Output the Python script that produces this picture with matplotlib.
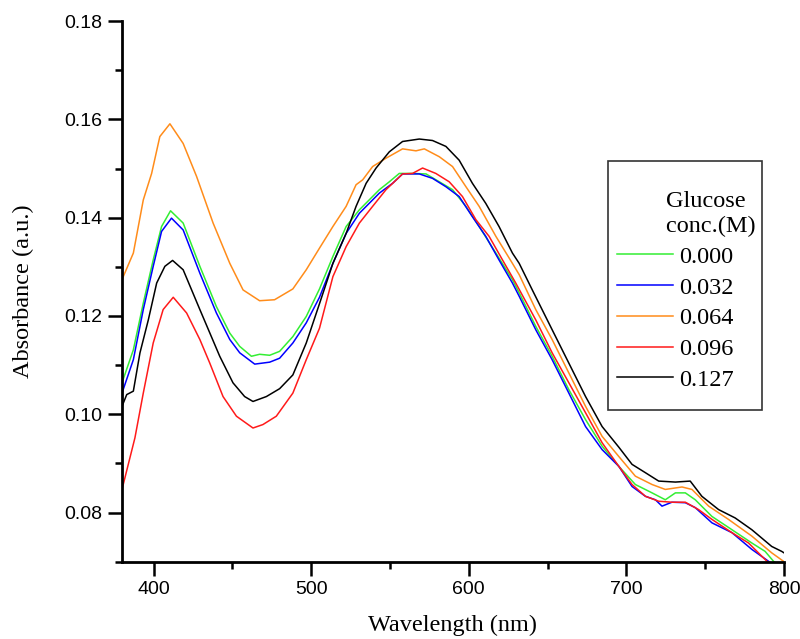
import numpy as np
import matplotlib
matplotlib.use("Agg")
import matplotlib.pyplot as plt
from matplotlib.patches import Rectangle
from matplotlib.ticker import MultipleLocator, FormatStrFormatter

# Espectros de absorbancia (longitud de onda en nm, absorbancia en u.a.)
wl_000 = [380, 387.2, 393.5, 399.8, 405.1, 410.8, 418.8, 429.4, 439.9, 448.4, 454.7, 462.1,
          467.3, 473.7, 480, 488.4, 496.9, 505.3, 513.8, 522.2, 530.6, 543.3, 549.6, 555.9,
          564.3, 572.9, 581.3, 589.7, 598.2, 606.6, 617.2, 627.7, 632, 642.5, 652.9, 663.5,
          674.1, 684.6, 695.2, 705.7, 716.3, 724.7, 731.1, 737.4, 743.7, 754.3, 767, 779.6,
          788, 793.3, 796]
abs_000 = [0.1064, 0.1131, 0.1226, 0.1314, 0.1382, 0.1414, 0.1389, 0.1301, 0.1219, 0.1165,
           0.1138, 0.1118, 0.1122, 0.1120, 0.1128, 0.1158, 0.1199, 0.1255, 0.1321, 0.1382,
           0.1416, 0.1457, 0.1473, 0.1490, 0.1490, 0.1489, 0.1473, 0.1457, 0.1423, 0.1382,
           0.1328, 0.1274, 0.1247, 0.1179, 0.1118, 0.1050, 0.0989, 0.0935, 0.0894, 0.0857,
           0.0840, 0.0826, 0.0840, 0.0840, 0.0826, 0.0792, 0.0765, 0.0738, 0.0721, 0.0701,
           0.0694]

wl_032 = [380, 387.2, 393.5, 399.8, 405.1, 411.4, 418.8, 429.4, 439.9, 448.4, 454.7, 464.2,
          473.7, 480, 488.4, 496.9, 505.3, 513.8, 522.2, 530.6, 543.3, 551.7, 558, 568.6,
          577, 585.5, 593.9, 602.3, 610.8, 619.2, 627.7, 632, 642.5, 652.9, 663.5, 674.1,
          684.6, 695.2, 703.6, 712.1, 718.4, 722.6, 728.9, 737.4, 743.7, 754.3, 767, 779.6,
          790.1, 793]
abs_032 = [0.1043, 0.1111, 0.1213, 0.1301, 0.1372, 0.1399, 0.1375, 0.1287, 0.1206, 0.1152,
           0.1125, 0.1102, 0.1106, 0.1114, 0.1145, 0.1186, 0.1238, 0.1307, 0.1368, 0.1409,
           0.1450, 0.1470, 0.1489, 0.1489, 0.1480, 0.1463, 0.1443, 0.1402, 0.1362, 0.1314,
           0.1267, 0.1240, 0.1172, 0.1111, 0.1043, 0.0975, 0.0928, 0.0894, 0.0853, 0.0833,
           0.0826, 0.0813, 0.0821, 0.0820, 0.0810, 0.0779, 0.0759, 0.0725, 0.0701, 0.0694]

wl_064 = [380, 387.2, 393.5, 398.8, 404, 410.4, 418.8, 427.3, 437.8, 448.4, 456.8, 467.3,
          476.8, 488.4, 496.9, 505.3, 513.8, 522.2, 528.5, 532.7, 539, 547.5, 558, 566.5,
          571.8, 581.3, 589.7, 598.2, 606.6, 617.2, 627.7, 632, 642.5, 652.9, 663.5, 674.1,
          684.6, 695.2, 705.7, 716.3, 724.7, 735.3, 741.6, 752.2, 764.8, 779.6, 792.2, 799.6]
abs_064 = [0.1274, 0.1328, 0.1436, 0.1490, 0.1565, 0.1591, 0.1551, 0.1484, 0.1389, 0.1307,
           0.1253, 0.1231, 0.1233, 0.1255, 0.1294, 0.1338, 0.1382, 0.1423, 0.1467, 0.1477,
           0.1504, 0.1521, 0.1540, 0.1536, 0.1540, 0.1524, 0.1504, 0.1463, 0.1423, 0.1362,
           0.1307, 0.1284, 0.1213, 0.1152, 0.1084, 0.1016, 0.0955, 0.0914, 0.0874, 0.0857,
           0.0847, 0.0852, 0.0847, 0.0813, 0.0786, 0.0752, 0.0718, 0.0701]

wl_096 = [380, 388.2, 393.5, 399.8, 406.1, 412.5, 421, 429.4, 435.7, 444.1, 452.6, 463.1,
          469.4, 477.9, 488.4, 496.9, 505.3, 513.8, 522.2, 530.6, 539, 547.5, 558, 564.3,
          570.7, 579.1, 587.6, 596, 604.5, 612.9, 621.4, 629.8, 642.5, 652.9, 663.5, 674.1,
          684.6, 695.2, 703.6, 712.1, 720.5, 728.9, 737.4, 745.8, 754.3, 767, 777.5, 789.1, 792]
abs_096 = [0.0847, 0.0952, 0.1043, 0.1145, 0.1213, 0.1238, 0.1206, 0.1152, 0.1104, 0.1036,
           0.0996, 0.0972, 0.0979, 0.0996, 0.1043, 0.1111, 0.1175, 0.1280, 0.1341, 0.1389,
           0.1423, 0.1457, 0.1489, 0.1490, 0.1501, 0.1490, 0.1473, 0.1443, 0.1396, 0.1362,
           0.1314, 0.1267, 0.1192, 0.1125, 0.1064, 0.1003, 0.0942, 0.0894, 0.0857, 0.0833,
           0.0823, 0.0821, 0.0821, 0.0806, 0.0786, 0.0759, 0.0738, 0.0701, 0.0694]

wl_127 = [380, 383, 387.2, 391.4, 396.7, 402, 407.2, 412.1, 418.8, 429.4, 442, 450.4, 457.8,
          463.1, 471.6, 480, 488.4, 496.9, 505.3, 513.8, 522.2, 528.5, 534.9, 541.2, 549.6,
          558, 568.6, 577, 585.5, 593.9, 602.3, 610.8, 619.2, 627.7, 632, 640.3, 652.9,
          663.5, 674.1, 684.6, 695.2, 703.6, 712.1, 720.5, 731.1, 740.5, 747.9, 758.5, 769,
          779.6, 792.2, 798.5, 800]
abs_127 = [0.1016, 0.1040, 0.1047, 0.1125, 0.1192, 0.1267, 0.1301, 0.1313, 0.1294, 0.1213,
           0.1118, 0.1064, 0.1036, 0.1026, 0.1036, 0.1052, 0.1080, 0.1145, 0.1225, 0.1307,
           0.1368, 0.1423, 0.1470, 0.1501, 0.1534, 0.1555, 0.1560, 0.1557, 0.1545, 0.1517,
           0.1470, 0.1429, 0.1382, 0.1328, 0.1307, 0.1253, 0.1172, 0.1104, 0.1036, 0.0975,
           0.0933, 0.0898, 0.0881, 0.0864, 0.0862, 0.0864, 0.0833, 0.0806, 0.0789, 0.0765,
           0.0731, 0.0721, 0.0718]

SERIES = [
    ("0.000", wl_000, abs_000, "#33ee33"),
    ("0.032", wl_032, abs_032, "#0000ff"),
    ("0.064", wl_064, abs_064, "#ff8c1a"),
    ("0.096", wl_096, abs_096, "#ff1a1a"),
    ("0.127", wl_127, abs_127, "#000000"),
]

SERIF = ["Liberation Serif", "DejaVu Serif"]
SANS = ["Liberation Sans", "DejaVu Sans"]

fig = plt.figure(figsize=(8, 6.39), dpi=100)
ax = fig.add_axes([0.1525, 0.121, 0.8275, 0.846])

for nombre, x, y, color in SERIES:
    ax.plot(x, y, color=color, lw=1.1, label=nombre)

ax.set_xlim(380, 800)
ax.set_ylim(0.07, 0.18)
ax.xaxis.set_major_locator(MultipleLocator(100))
ax.xaxis.set_minor_locator(MultipleLocator(50))
ax.yaxis.set_major_locator(MultipleLocator(0.02))
ax.yaxis.set_minor_locator(MultipleLocator(0.01))
ax.yaxis.set_major_formatter(FormatStrFormatter("%.2f"))

for lado in ("top", "right"):
    ax.spines[lado].set_visible(False)
for lado in ("left", "bottom"):
    ax.spines[lado].set_linewidth(2)

ax.tick_params(which="major", direction="out", length=10, width=1.8, pad=4)
ax.tick_params(which="minor", direction="out", length=5, width=1.8)
for lab in ax.get_xticklabels() + ax.get_yticklabels():
    lab.set_family(SANS)
    lab.set_fontsize(14)

ax.set_xlabel("Wavelength (nm)", family=SERIF, fontsize=17.5, labelpad=12)
ax.set_ylabel("Absorbance (a.u.)", family=SERIF, fontsize=17.5, labelpad=22)

# Leyenda sin marco propio; el recuadro se dibuja aparte para controlar los márgenes
leg = ax.legend(title="        Glucose\n        conc.(M)", loc="upper left",
                bbox_to_anchor=(0.748, 0.686), borderaxespad=0, borderpad=0,
                prop={"family": SERIF, "size": 17.5},
                title_fontproperties={"family": SERIF, "size": 17.5},
                frameon=False, handlelength=2.3, handletextpad=0.25,
                labelspacing=0.36, alignment="left")
leg.get_title().set_linespacing(1.25)
ax.add_patch(Rectangle((0.734, 0.2806), 0.233, 0.4604, transform=ax.transAxes,
                       fill=False, edgecolor="#333333", lw=1.2, zorder=5))

fig.savefig("out.png", dpi=100)
